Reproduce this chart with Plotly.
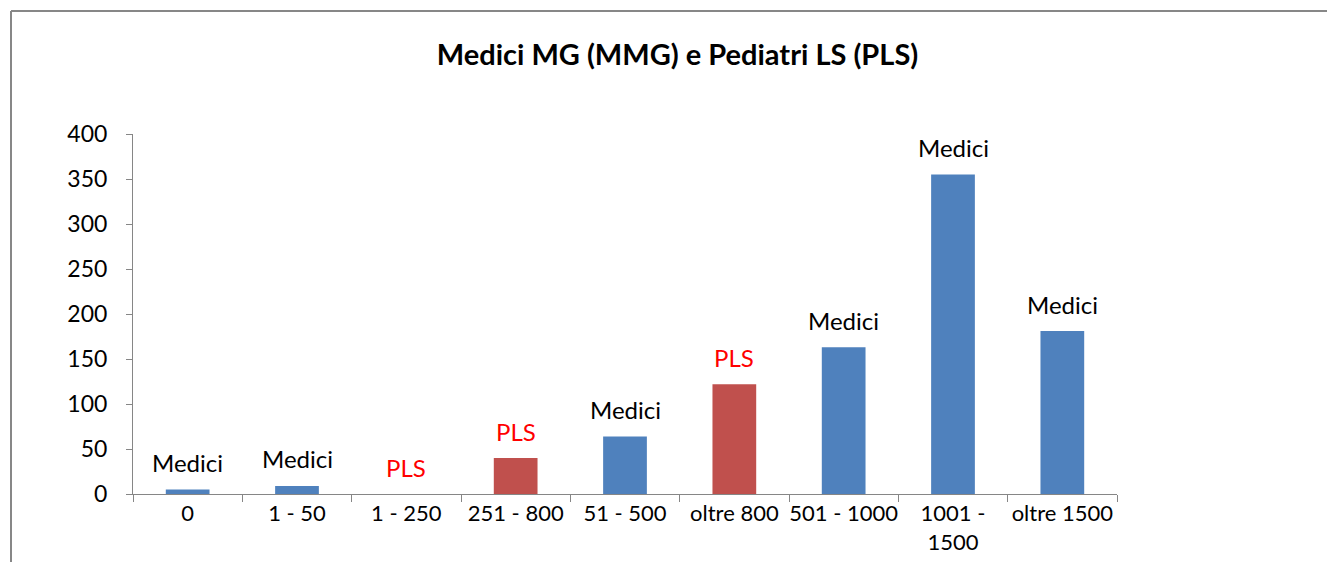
import plotly.graph_objects as go

categories = ["0", "1 - 50", "1 - 250", "251 - 800", "51 - 500", "oltre 800",
              "501 - 1000", "1001 -<br>1500", "oltre 1500"]
medici = [5, 9, None, None, 64, None, 163, 355, 181]
pls = [None, None, 0, 40, None, 122, None, None, None]
y_ticks = [0, 50, 100, 150, 200, 250, 300, 350, 400]

FONT = "Lato, Carlito, Calibri, sans-serif"
OFF = 8  # default page body margin
W, H = 1335 - 2 * OFF, 570 - 2 * OFF
L, R, T, B = 133 - OFF, 1117 - OFF, 134 - OFF, 494 - OFF

fig = go.Figure()
fig.add_trace(go.Bar(x=categories, y=medici, name="Medici",
                     marker=dict(color="#4F81BD", line=dict(width=0))))
fig.add_trace(go.Bar(x=categories, y=pls, name="PLS",
                     marker=dict(color="#C0504D", line=dict(width=0))))

annotations = []
for c, v in zip(categories, medici):
    if v is not None:
        annotations.append(dict(x=c, y=v, xref="x", yref="y", text="Medici",
                                showarrow=False, yanchor="middle", yshift=27,
                                font=dict(family=FONT, size=24, color="black")))
for c, v in zip(categories, pls):
    if v is not None:
        annotations.append(dict(x=c, y=v, xref="x", yref="y", text="PLS",
                                showarrow=False, yanchor="middle", yshift=27,
                                font=dict(family=FONT, size=24, color="#FF0000")))

pw, ph = R - L, B - T
bx0 = (11 - OFF - L) / pw
bx1 = (W + 20 - L) / pw
by0 = -(H + 20 - B) / ph
by1 = 1 + (T - (11 - OFF)) / ph
border = dict(color="#878787", width=2)
fig.update_layout(
    width=W, height=H,
    margin=dict(l=L, r=W - R, t=T, b=H - B, autoexpand=False),
    paper_bgcolor="white", plot_bgcolor="white",
    showlegend=False,
    barmode="overlay", bargap=0.6,
    font=dict(family=FONT, size=22, color="black"),
    title=dict(text="<b>Medici MG (MMG) e Pediatri LS (PLS)</b>",
               x=(677.5 - OFF) / W, xanchor="center",
               y=1 - (55 - OFF) / H, yanchor="middle",
               font=dict(family=FONT, size=29, color="black")),
    annotations=annotations,
    shapes=[
        dict(type="line", xref="paper", yref="paper", x0=bx0, x1=bx1,
             y0=by1, y1=by1, line=border, layer="below"),
        dict(type="line", xref="paper", yref="paper", x0=bx0, x1=bx0,
             y0=by0, y1=by1, line=border, layer="below"),
    ],
)
fig.update_xaxes(type="category", tickson="boundaries", ticks="outside",
                 ticklen=7, tickcolor="#868686", showline=True,
                 linecolor="#868686", linewidth=1, showgrid=False,
                 tickangle=0, automargin=False,
                 tickfont=dict(family=FONT, size=22, color="black"),
                 fixedrange=True)
fig.update_yaxes(range=[0, 400], tickvals=y_ticks, ticks="outside", ticklen=6,
                 tickcolor="#868686", showline=True, linecolor="#868686",
                 linewidth=1, showgrid=False, zeroline=False, automargin=False,
                 tickfont=dict(family=FONT, size=23, color="black"),
                 ticklabelstandoff=14, fixedrange=True)

fig.write_html("out.html")
